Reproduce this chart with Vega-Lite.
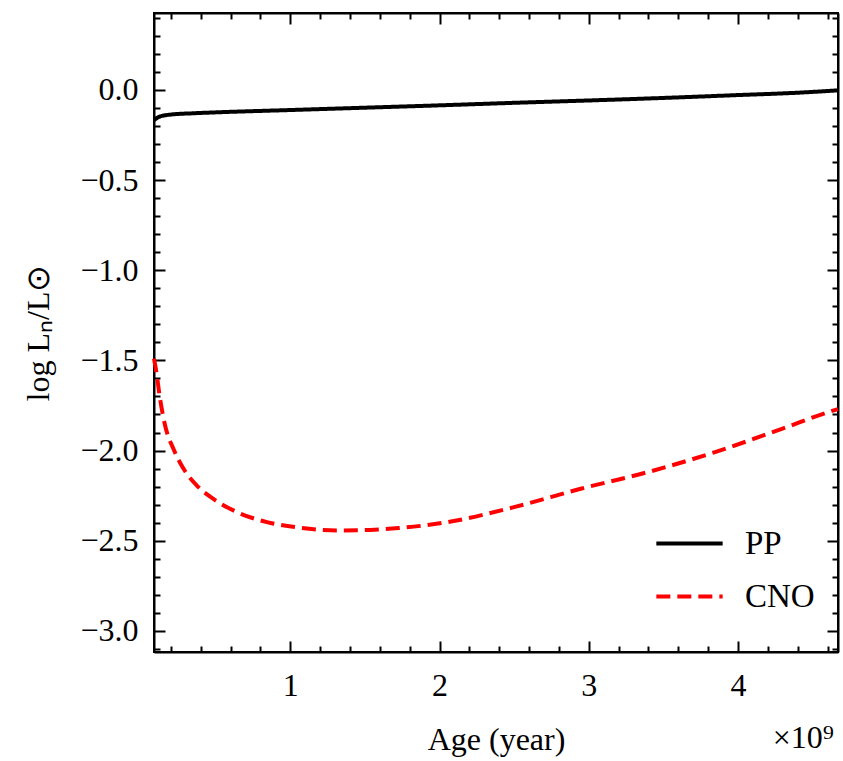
{
  "$schema": "https://vega.github.io/schema/vega-lite/v6.json",
  "width": 684,
  "height": 639,
  "autosize": {"type": "none"},
  "padding": {"left": 154, "top": 13, "right": 5, "bottom": 109},
  "background": "white",
  "config": {
    "font": "Liberation Serif",
    "view": {"stroke": "black", "strokeWidth": 2},
    "axis": {"grid": false, "domainColor": "black", "domainWidth": 2, "tickColor": "black", "tickWidth": 2, "labelColor": "black", "labelFont": "Liberation Serif", "labelFontSize": 32, "titleFont": "Liberation Serif", "titleFontSize": 32, "titleFontWeight": "normal", "titleColor": "black"}
  },
  "title": {"text": "×10⁹", "orient": "bottom", "anchor": "end", "font": "Liberation Serif", "fontSize": 32, "fontWeight": "normal", "color": "black", "offset": -32, "dx": -12},
  "data": {"values": [
    {"age": 0.087, "logL": -0.168, "series": "PP"},
    {"age": 0.12, "logL": -0.15, "series": "PP"},
    {"age": 0.2, "logL": -0.137, "series": "PP"},
    {"age": 0.35, "logL": -0.13, "series": "PP"},
    {"age": 0.5, "logL": -0.125, "series": "PP"},
    {"age": 1.0, "logL": -0.112, "series": "PP"},
    {"age": 1.5, "logL": -0.099, "series": "PP"},
    {"age": 2.0, "logL": -0.086, "series": "PP"},
    {"age": 2.5, "logL": -0.072, "series": "PP"},
    {"age": 3.0, "logL": -0.059, "series": "PP"},
    {"age": 3.5, "logL": -0.045, "series": "PP"},
    {"age": 4.0, "logL": -0.029, "series": "PP"},
    {"age": 4.4, "logL": -0.016, "series": "PP"},
    {"age": 4.67, "logL": -0.003, "series": "PP"},
    {"age": 0.087, "logL": -1.49, "series": "CNO"},
    {"age": 0.1, "logL": -1.55, "series": "CNO"},
    {"age": 0.128, "logL": -1.715, "series": "CNO"},
    {"age": 0.161, "logL": -1.86, "series": "CNO"},
    {"age": 0.217, "logL": -1.99, "series": "CNO"},
    {"age": 0.284, "logL": -2.1, "series": "CNO"},
    {"age": 0.374, "logL": -2.194, "series": "CNO"},
    {"age": 0.485, "logL": -2.268, "series": "CNO"},
    {"age": 0.642, "logL": -2.341, "series": "CNO"},
    {"age": 0.844, "logL": -2.397, "series": "CNO"},
    {"age": 1.067, "logL": -2.428, "series": "CNO"},
    {"age": 1.313, "logL": -2.443, "series": "CNO"},
    {"age": 1.537, "logL": -2.44, "series": "CNO"},
    {"age": 1.725, "logL": -2.43, "series": "CNO"},
    {"age": 2.052, "logL": -2.397, "series": "CNO"},
    {"age": 2.499, "logL": -2.314, "series": "CNO"},
    {"age": 2.946, "logL": -2.212, "series": "CNO"},
    {"age": 3.394, "logL": -2.12, "series": "CNO"},
    {"age": 3.841, "logL": -2.01, "series": "CNO"},
    {"age": 4.289, "logL": -1.881, "series": "CNO"},
    {"age": 4.602, "logL": -1.788, "series": "CNO"},
    {"age": 4.67, "logL": -1.77, "series": "CNO"}
  ]},
  "layer": [
    {
      "mark": {"type": "line", "strokeWidth": 4, "interpolate": "monotone"},
      "encoding": {
        "x": {"field": "age", "type": "quantitative",
          "scale": {"domain": [0.087, 4.67], "nice": false, "zero": false},
          "axis": {"orient": "bottom", "title": "Age (year)", "titlePadding": 18,
            "values": [0.2,0.4,0.6,0.8,1,1.2,1.4,1.6,1.8,2,2.2,2.4,2.6,2.8,3,3.2,3.4,3.6,3.8,4,4.2,4.4,4.6],
            "tickSize": {"condition": {"test": "abs(datum.value - round(datum.value)) < 1e-6", "value": -11}, "value": -6},
            "labelExpr": "abs(datum.value - round(datum.value)) < 1e-6 ? format(datum.value, 'd') : ''",
            "labelPadding": 29, "labelFlush": false, "labelOverlap": false}},
        "y": {"field": "logL", "type": "quantitative",
          "scale": {"domain": [-3.117, 0.426], "nice": false, "zero": false},
          "axis": {"orient": "left", "title": "log Lₙ/L⊙", "titlePadding": 24,
            "values": [-3.1,-3,-2.9,-2.8,-2.7,-2.6,-2.5,-2.4,-2.3,-2.2,-2.1,-2,-1.9,-1.8,-1.7,-1.6,-1.5,-1.4,-1.3,-1.2,-1.1,-1,-0.9,-0.8,-0.7,-0.6,-0.5,-0.4,-0.3,-0.2,-0.1,0,0.1,0.2,0.3,0.4],
            "tickSize": {"condition": {"test": "abs(datum.value*2 - round(datum.value*2)) < 1e-6", "value": -11}, "value": -6},
            "labelExpr": "abs(datum.value*2 - round(datum.value*2)) < 1e-6 ? replace(format(datum.value, '.1f'), '-', '−') : ''",
            "labelPadding": 27, "labelFlush": false, "labelOverlap": false}},
        "color": {"field": "series", "type": "nominal",
          "scale": {"domain": ["PP", "CNO"], "range": ["black", "#ff0000"]},
          "legend": {"title": null, "orient": "none", "legendX": 500, "legendY": 495,
            "labelFont": "Liberation Serif", "labelFontSize": 33, "labelColor": "black", "labelOffset": 20,
            "symbolType": "stroke", "symbolSize": 4400, "symbolStrokeWidth": 4, "rowPadding": -10}},
        "strokeDash": {"field": "series", "type": "nominal",
          "scale": {"domain": ["PP", "CNO"], "range": [[1, 0], [14, 7]]}}
      }
    },
    {
      "mark": {"type": "line", "opacity": 0},
      "encoding": {
        "x": {"field": "age", "type": "quantitative",
          "axis": {"orient": "top", "title": null, "labels": false,
            "values": [0.2,0.4,0.6,0.8,1,1.2,1.4,1.6,1.8,2,2.2,2.4,2.6,2.8,3,3.2,3.4,3.6,3.8,4,4.2,4.4,4.6],
            "tickSize": {"condition": {"test": "abs(datum.value - round(datum.value)) < 1e-6", "value": -11}, "value": -6}}},
        "y": {"field": "logL", "type": "quantitative",
          "axis": {"orient": "right", "title": null, "labels": false,
            "values": [-3.1,-3,-2.9,-2.8,-2.7,-2.6,-2.5,-2.4,-2.3,-2.2,-2.1,-2,-1.9,-1.8,-1.7,-1.6,-1.5,-1.4,-1.3,-1.2,-1.1,-1,-0.9,-0.8,-0.7,-0.6,-0.5,-0.4,-0.3,-0.2,-0.1,0,0.1,0.2,0.3,0.4],
            "tickSize": {"condition": {"test": "abs(datum.value*2 - round(datum.value*2)) < 1e-6", "value": -11}, "value": -6}}},
        "detail": {"field": "series", "type": "nominal"}
      }
    }
  ],
  "resolve": {"axis": {"x": "independent", "y": "independent"}}
}
